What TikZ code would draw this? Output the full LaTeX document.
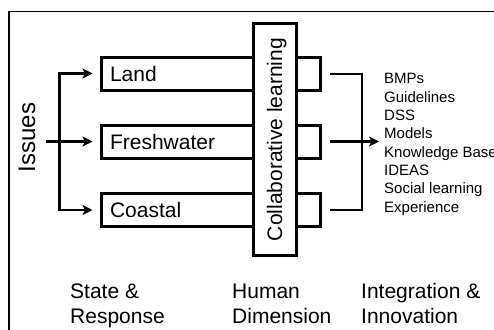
\documentclass[tikz,border=0pt]{standalone}
\usepackage{fontspec}
\setmainfont{Liberation Sans}
\usetikzlibrary{arrows.meta,calc}
\begin{document}
\begin{tikzpicture}[x=1pt,y=-1pt,
  >={Stealth[length=10pt,width=10pt,inset=2.5pt]},
  bigfont/.style={font=\fontsize{21}{25}\selectfont},
  bar/.style={draw, line width=3pt, minimum height=33pt, text width=201pt,
    inner xsep=9pt, inner ysep=0pt, align=left, text height=15pt, text depth=0pt, bigfont},
  arr/.style={line width=2.6pt, line join=miter},
  thin/.style={line width=2pt, line join=miter},
  lbl/.style={bigfont, align=left, anchor=base west, inner sep=0pt}
]
\useasboundingbox (0,0) rectangle (494,329);
% frame
\coordinate (fb) at (9,330);
\coordinate (fc) at (9,11.5);
\coordinate (fr) at (495,11.5);
\draw[line width=1.6pt] (fb) -- (fc) -- (fr);

% boxes
\node[bar] (land)  at (210.5,73.5) {Land};
\node[bar] (fresh) at (210.5,141.5) {Freshwater};
\node[bar] (coast) at (210.5,210) {Coastal};

% collaborative learning
\node[draw, fill=white, line width=3pt, rotate=90, minimum width=231pt, minimum height=43pt,
      inner sep=0pt, text height=15pt, text depth=0pt, bigfont] (collab) at (274.5,139.5) {Collaborative learning};

% issues
\node[rotate=90, inner sep=0pt, text height=17.2pt, text depth=0pt, font=\fontsize{24}{28}\selectfont] (issues) at (26.5,137.5) {Issues};

% left arrows
\draw[arr, ->] ($(issues.south |- fresh.west)+(11,0)$) -- ($(fresh.west)+(-7,0)$);
\draw[arr, <->]
  ($(land.west)+(-7,0)$) -- ($(land.west)+(-40,0)$) |- ($(coast.west)+(-7,0)$);

% right bracket
\node[font=\fontsize{15}{18.3}\selectfont, align=left, anchor=base west, inner sep=0pt] (list) at (384,212)
  {BMPs\\Guidelines\\DSS\\Models\\Knowledge Base\\IDEAS\\Social learning\\Experience};
\coordinate (rt) at ($(land.east)+(8,0)$);
\coordinate (rb) at ($(coast.east)+(8,0)$);
\coordinate (rm) at ($(fresh.east)+(8,0)$);
\draw[thin] (rt) -- ++(32,0) |- (rb);
\draw[arr, ->] (rm) -- ($(rm -| list.west)+(-5,0)$);

% bottom labels
\node[lbl] (sr) at (70,323) {State \&\\Response};
\node[lbl] (hd) at (232,323) {Human\\Dimension};
\node[lbl] (ii) at (361,323) {Integration \&\\Innovation};
\end{tikzpicture}
\end{document}
